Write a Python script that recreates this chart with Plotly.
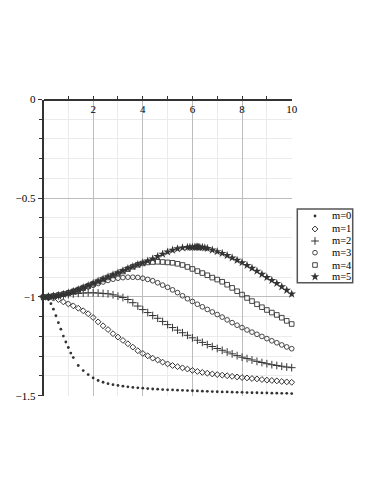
import plotly.graph_objects as go

# sample positions
X = [0.0, 0.2, 0.4, 0.6, 0.8, 1.0, 1.2, 1.4, 1.6, 1.8, 2.0, 2.2, 2.4, 2.6, 2.8,
     3.0, 3.2, 3.4, 3.6, 3.8, 4.0, 4.2, 4.4, 4.6, 4.8, 5.0, 5.2, 5.4, 5.6, 5.8,
     6.0, 6.2, 6.4, 6.6, 6.8, 7.0, 7.2, 7.4, 7.6, 7.8, 8.0, 8.2, 8.4, 8.6, 8.8,
     9.0, 9.2, 9.4, 9.6, 9.8, 10.0]

X0 = [0.0, 0.1, 0.2, 0.3, 0.4, 0.5, 0.6, 0.7, 0.8, 0.9, 1.0, 1.1, 1.2,
      1.4, 1.6, 1.8, 2.0, 2.2, 2.4, 2.6, 2.8, 3.0, 3.2, 3.4, 3.6, 3.8, 4.0,
      4.2, 4.4, 4.6, 4.8, 5.0, 5.2, 5.4, 5.6, 5.8, 6.0, 6.2, 6.4, 6.6, 6.8,
      7.0, 7.2, 7.4, 7.6, 7.8, 8.0, 8.2, 8.4, 8.6, 8.8, 9.0, 9.2, 9.4, 9.6,
      9.8, 10.0]

X5 = [0.0, 0.2, 0.4, 0.6, 0.8, 1.0, 1.2, 1.4, 1.6, 1.8, 2.0, 2.2, 2.4, 2.6, 2.8,
      3.0, 3.2, 3.4, 3.6, 3.8, 4.0, 4.2, 4.4, 4.6, 4.8, 5.0, 5.2, 5.4, 5.6, 5.8,
      5.9, 6.0, 6.1, 6.15, 6.2, 6.25, 6.3, 6.4, 6.5, 6.6,
      6.8, 7.0, 7.2, 7.4, 7.6, 7.8, 8.0, 8.2, 8.4, 8.6, 8.8,
      9.0, 9.2, 9.4, 9.6, 9.8, 10.0]

Y0 = [-1.000, -1.004, -1.013, -1.034, -1.062, -1.095, -1.130, -1.163, -1.198,
      -1.228, -1.256, -1.284, -1.307,
      -1.347, -1.373, -1.393, -1.410, -1.423, -1.432, -1.439, -1.444, -1.448,
      -1.452, -1.455, -1.458, -1.460, -1.462, -1.464, -1.466, -1.467, -1.469,
      -1.470, -1.471, -1.472, -1.473, -1.474, -1.475, -1.476, -1.477, -1.478,
      -1.479, -1.480, -1.481, -1.481, -1.482, -1.483, -1.483, -1.484, -1.485,
      -1.485, -1.486, -1.486, -1.487, -1.487, -1.488, -1.488, -1.489]

Y1 = [-1.000, -1.002, -1.006, -1.013, -1.025, -1.035, -1.045, -1.057, -1.070,
      -1.085, -1.104, -1.126, -1.146, -1.165, -1.186, -1.203, -1.220, -1.237,
      -1.254, -1.272, -1.286, -1.298, -1.310, -1.319, -1.330, -1.339, -1.347,
      -1.353, -1.359, -1.365, -1.372, -1.377, -1.382, -1.386, -1.390, -1.393,
      -1.396, -1.399, -1.402, -1.405, -1.408, -1.410, -1.413, -1.415, -1.418,
      -1.421, -1.423, -1.425, -1.428, -1.430, -1.432]

Y2 = [-1.000, -0.999, -0.997, -0.994, -0.991, -0.988, -0.985, -0.982, -0.980,
      -0.979, -0.979, -0.980, -0.982, -0.984, -0.989, -0.996, -1.003, -1.013,
      -1.029, -1.046, -1.064, -1.079, -1.094, -1.108, -1.124, -1.140, -1.155,
      -1.168, -1.181, -1.194, -1.207, -1.219, -1.230, -1.241, -1.251, -1.261,
      -1.270, -1.279, -1.288, -1.297, -1.305, -1.312, -1.319, -1.326, -1.332,
      -1.338, -1.343, -1.347, -1.351, -1.355, -1.358]

Y3 = [-1.000, -0.998, -0.995, -0.990, -0.985, -0.979, -0.972, -0.965, -0.957,
      -0.949, -0.941, -0.932, -0.924, -0.916, -0.910, -0.905, -0.902, -0.900,
      -0.900, -0.901, -0.905, -0.911, -0.918, -0.928, -0.940, -0.951, -0.964,
      -0.978, -0.994, -1.009, -1.023, -1.037, -1.050, -1.063, -1.076, -1.089,
      -1.102, -1.116, -1.130, -1.143, -1.155, -1.167, -1.178, -1.189, -1.200,
      -1.211, -1.222, -1.232, -1.243, -1.253, -1.262]

Y4 = [-1.000, -0.998, -0.995, -0.991, -0.986, -0.980, -0.972, -0.963, -0.953,
      -0.944, -0.933, -0.922, -0.911, -0.901, -0.891, -0.881, -0.871, -0.859,
      -0.847, -0.837, -0.830, -0.825, -0.823, -0.822, -0.823, -0.825, -0.827,
      -0.832, -0.838, -0.848, -0.858, -0.869, -0.879, -0.890, -0.902, -0.912,
      -0.923, -0.938, -0.954, -0.971, -0.988, -1.005, -1.021, -1.037, -1.052,
      -1.066, -1.079, -1.091, -1.105, -1.121, -1.137]

Y5 = [-1.000, -0.998, -0.995, -0.991, -0.986, -0.979, -0.971, -0.962, -0.952,
      -0.942, -0.931, -0.920, -0.909, -0.898, -0.888, -0.878, -0.867, -0.856,
      -0.846, -0.836, -0.827, -0.818, -0.807, -0.795, -0.783, -0.772, -0.763,
      -0.756, -0.751, -0.749,
      -0.748, -0.748, -0.747, -0.747, -0.747, -0.748, -0.748, -0.749, -0.751,
      -0.754,
      -0.762, -0.770, -0.779, -0.790, -0.802, -0.814, -0.826, -0.840, -0.854,
      -0.869, -0.885, -0.901, -0.916, -0.931, -0.948, -0.966, -0.985]

NAMES = ["m=0", "m=1", "m=2", "m=3", "m=4", "m=5"]
SERIES = [(X0, Y0), (X, Y1), (X, Y2), (X, Y3), (X, Y4), (X5, Y5)]

INK = "#333"
SERIF = "Liberation Serif"
styles = [
    dict(symbol="circle", size=2.8, line=dict(width=0)),
    dict(symbol="diamond-open", size=4.5, line=dict(width=1, color=INK)),
    dict(symbol="cross-thin-open", size=5.5, line=dict(width=1, color=INK)),
    dict(symbol="circle-open", size=4.7, line=dict(width=0.9, color=INK)),
    dict(symbol="square-open", size=4.6, line=dict(width=0.9, color=INK)),
    dict(symbol="star", size=6.5, line=dict(width=0)),
]

# the page body has an 8px margin, so work in figure pixels = page - 8
OFF = 8
W, H = 366, 478
# plot box in figure pixels
L, R, T, B = 43.5 - OFF, 291.7 - OFF, 99.5 - OFF, 395.7 - OFF
# legend box in figure pixels
LL, LR, LT, LB = 297.3 - OFF, 352.7 - OFF, 209.0 - OFF, 282.7 - OFF

fig = go.Figure()
for (xs, ys), st in zip(SERIES, styles):
    fig.add_trace(go.Scatter(
        x=xs, y=ys, mode="markers", cliponaxis=False, showlegend=False,
        hoverinfo="x+y", marker=dict(color=INK, **st)))

# hand-made legend on its own hidden axes (pixel units)
row_tops = [7, 20, 32, 43.7, 56, 67.7]
annotations = []
for name, st, rt in zip(NAMES, styles, row_tops):
    yy = (LB - LT) - rt
    fig.add_trace(go.Scatter(
        x=[17.7], y=[yy], xaxis="x2", yaxis="y2", mode="markers",
        showlegend=False, hoverinfo="skip", cliponaxis=False,
        marker=dict(color=INK, **st)))
    annotations.append(dict(
        x=33.0, y=yy, xref="x2", yref="y2", text=name, showarrow=False,
        xanchor="left", yanchor="middle",
        font=dict(family=SERIF, size=10.5, color="black")))

fig.update_layout(
    width=W, height=H,
    margin=dict(l=0, r=0, t=0, b=0, autoexpand=False),
    paper_bgcolor="white", plot_bgcolor="white",
    font=dict(family=SERIF, size=11, color="black"),
    showlegend=False,
    # x axis sits on the top edge (y = 0) with its labels hanging inside
    xaxis=dict(
        domain=[L / W, R / W], range=[0, 10], side="bottom",
        anchor="free", position=(H - T) / H, automargin=False,
        tickvals=[2, 4, 6, 8, 10], ticks="inside", ticklen=3,
        tickcolor="#333", showline=True, linecolor="#333", linewidth=1.5,
        showgrid=True, gridcolor="#bdbdbd", gridwidth=1, zeroline=False,
        minor=dict(dtick=1, tick0=0, ticks="inside", ticklen=3,
                   tickcolor="#333", showgrid=True, gridcolor="#ebebeb"),
        tickfont=dict(family=SERIF, size=11, color="black"),
    ),
    yaxis=dict(
        domain=[(H - B) / H, (H - T) / H], range=[-1.5, 0], anchor="x",
        automargin=False,
        dtick=0.5, tick0=0, ticks="outside", ticklen=4, tickcolor="#333",
        showline=True, linecolor="#333", linewidth=1.5,
        showgrid=True, gridcolor="#bdbdbd", gridwidth=1, zeroline=False,
        minor=dict(dtick=0.1, tick0=0, ticks="outside", ticklen=3,
                   tickcolor="#333", showgrid=True, gridcolor="#ebebeb"),
        tickfont=dict(family=SERIF, size=11, color="black"),
    ),
    xaxis2=dict(domain=[LL / W, LR / W], range=[0, LR - LL], anchor="y2",
                visible=False, fixedrange=True, automargin=False),
    yaxis2=dict(domain=[(H - LB) / H, (H - LT) / H], range=[0, LB - LT],
                anchor="x2", visible=False, fixedrange=True, automargin=False),
    shapes=[dict(type="rect", xref="x2 domain", yref="y2 domain",
                 x0=0, x1=1, y0=0, y1=1,
                 line=dict(color="#555", width=1.5))],
    annotations=annotations,
)

fig.write_html("out.html")
